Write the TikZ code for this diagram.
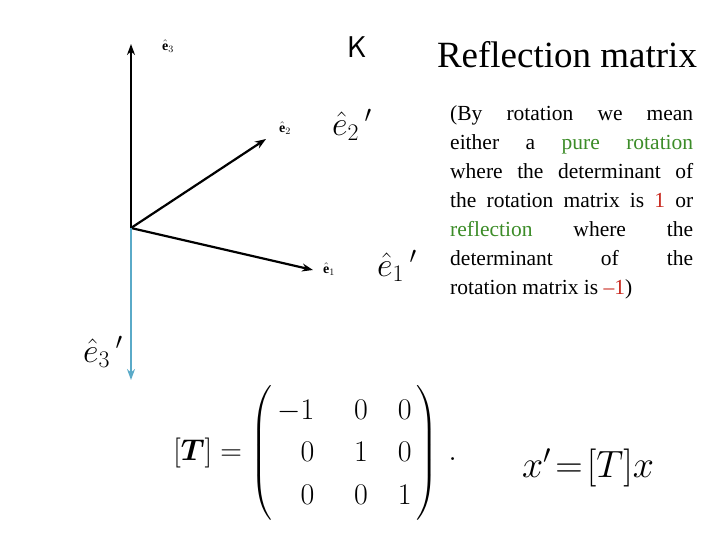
\documentclass[tikz,border=0pt]{standalone}
\usepackage{fix-cm}
\usetikzlibrary{arrows.meta}
\usepackage{fontspec}
\setmainfont{Liberation Serif}
\usepackage{amsmath}
\usepackage{bm}
\definecolor{gr}{RGB}{60,140,40}
\definecolor{rd}{RGB}{200,40,30}
\definecolor{bl}{RGB}{90,170,200}
\begin{document}
\begin{tikzpicture}[x=1pt,y=-1pt,
  ax/.style={line width=2.2pt,-{Stealth[length=11pt,width=8pt]}},
  sm/.style={font=\fontsize{14}{14}\selectfont},
  bg/.style={font=\fontsize{34}{34}\selectfont}]
\useasboundingbox (0,0) rectangle (720,540);
\coordinate (o) at (131,228);
\coordinate (a3) at (131,44);
\coordinate (a2) at (266,139);
\coordinate (a1) at (313,270);
\coordinate (b3) at (131,380);
\draw[ax] (o) -- (a3);
\draw[ax] (o) -- (a2);
\draw[ax] (o) -- (a1);
\draw[ax,bl] (o) -- (b3);
\node[sm] (l3) at (168,46) {$\hat{\mathbf e}_3$};
\node[sm] (l2) at (285,128) {$\hat{\mathbf e}_2$};
\node[sm] (l1) at (329,269) {$\hat{\mathbf e}_1$};
\node[font=\fontsize{30}{30}\selectfont\sffamily] (K) at (357,47) {K};
\node[font=\fontsize{37}{37}\selectfont] (t) at (567,55) {Reflection matrix};
\node[bg] (e2p) at (352,125) {$\hat{e}_2\,'$};
\node[bg] (e1p) at (397,266) {$\hat{e}_1\,'$};
\node[bg] (e3p) at (103,352) {$\hat{e}_3\,'$};
\node[anchor=north west,text width=243pt,align=justify,inner sep=0pt,
  font=\fontsize{21.5}{29}\selectfont] (txt) at (450,105)
 {\hyphenpenalty=10000 (By rotation we mean\linebreak either a \textcolor{gr}{pure rotation}\linebreak where the determinant of\linebreak the rotation matrix is \textcolor{rd}{1} or\linebreak \textcolor{gr}{reflection} where the\linebreak determinant of the\linebreak rotation matrix is \textcolor{rd}{–1})};
\node[font=\fontsize{30}{34}\selectfont] (M) at (315,453)
 {\renewcommand{\arraystretch}{1.25}$[\bm{T}]=\left(\begin{array}{@{\,}r@{\hspace{40pt}}c@{\hspace{30pt}}c@{\,}}-1&0&0\\0&1&0\\0&0&1\end{array}\right)\,.$};
\node[font=\fontsize{38}{38}\selectfont] (eq) at (588,468) {$x'\!=\![T]x$};
\end{tikzpicture}
\end{document}
